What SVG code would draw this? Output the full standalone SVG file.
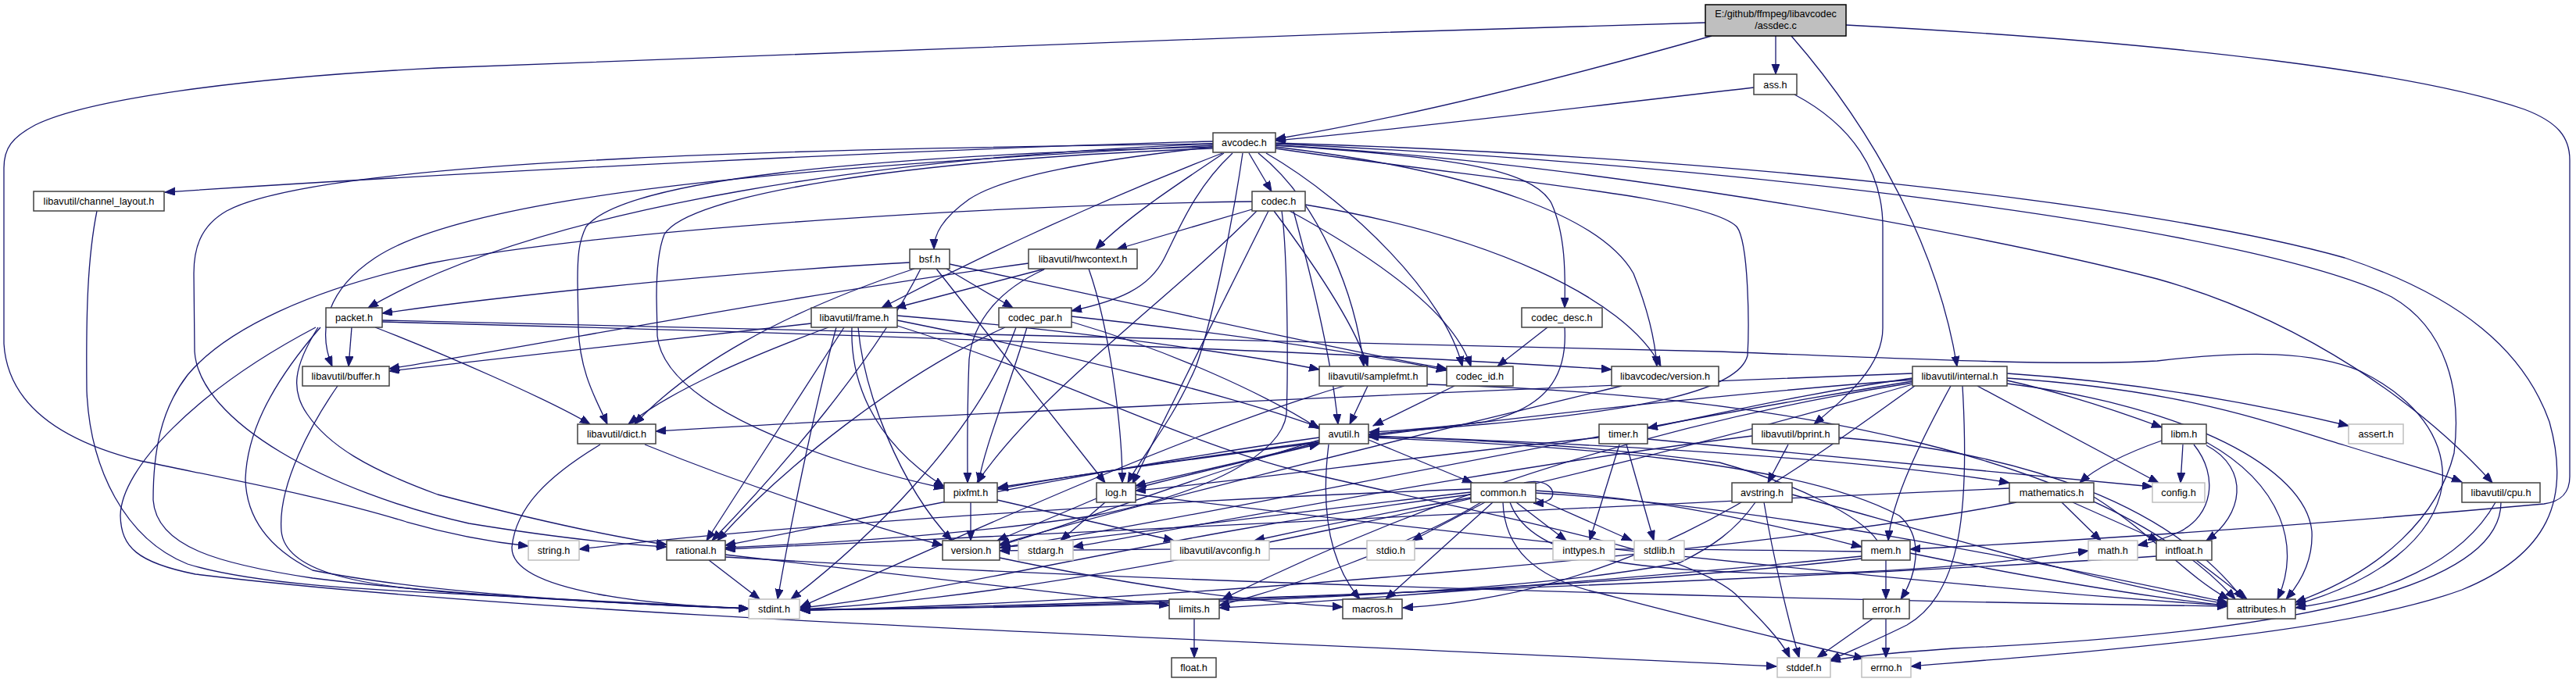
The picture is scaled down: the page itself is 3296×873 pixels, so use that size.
<svg xmlns="http://www.w3.org/2000/svg" width="3296" height="873" viewBox="0 0 3296 873">
<defs>
<marker id="a" markerWidth="14" markerHeight="11" refX="13" refY="5" orient="auto" markerUnits="userSpaceOnUse"><path d="M0,0 L13,5 L0,10 z" fill="#191970" stroke="#191970" stroke-width="1"/></marker>
<style>
.e{fill:none;stroke:#191970;stroke-width:1.3;marker-end:url(#a)}
.n rect{fill:#fff;stroke:#404040;stroke-width:1.5}
.g rect{fill:#fff;stroke:#bfbfbf;stroke-width:1.5}
text{font-family:"Liberation Sans",Arial,sans-serif;font-size:12.7px;text-anchor:middle;fill:#000}
</style>
</defs>
<rect x="0" y="0" width="3296" height="873" fill="#fff"/>
<g id="edges">
<path class="e" d="M2190,46 C2000,100 1800,150 1632,178"/>
<path class="e" d="M2272,46 L2272,95"/>
<path class="e" d="M2292,46 C2400,170 2480,320 2504,469"/>
<path class="e" d="M2182,29 C1600,45 900,72 560,87 C300,100 110,128 45,160 C15,176 5,190 5,215 L5,440 C10,520 80,565 180,590 C300,615 420,637 520,668 C590,688 640,695 676,699"/>
<path class="e" d="M2362,32 C2800,55 3100,95 3230,140 C3272,156 3288,175 3288,205 L3288,610 C3288,632 3276,642 3255,645 C3000,668 2700,690 2444,703"/>
<path class="e" d="M2244,112 C2000,140 1800,165 1632,180"/>
<path class="e" d="M2296,121 C2370,160 2409,220 2409,290 L2409,420 C2409,470 2360,510 2321,543"/>
<path class="e" d="M1552,181 C1200,190 600,220 211,246"/>
<path class="e" d="M1552,184 C1150,200 700,260 471,394"/>
<path class="e" d="M1552,186 C1000,215 600,250 480,330 C420,370 405,420 425,469"/>
<path class="e" d="M1552,188 C1100,200 800,230 750,290 C740,310 739,330 739,360 L740,420 C742,480 765,515 777,543"/>
<path class="e" d="M1552,190 C1150,205 880,250 850,300 C842,320 840,350 840,380 L841,430 C850,520 1050,590 1208,625"/>
<path class="e" d="M1552,184 C1100,190 420,200 290,270 C255,290 248,320 248,350 L249,450 C255,540 420,630 600,670 C710,688 800,697 853,700"/>
<path class="e" d="M1564,196 C1400,260 1250,330 1128,394"/>
<path class="e" d="M1552,188 C1400,205 1285,225 1240,255 C1205,280 1195,300 1195,319"/>
<path class="e" d="M1566,196 C1500,240 1440,280 1402,319"/>
<path class="e" d="M1577,196 C1530,240 1510,290 1490,330 C1470,370 1430,385 1371,398"/>
<path class="e" d="M1590,196 C1575,300 1548,420 1530,470 C1500,540 1460,585 1443,618"/>
<path class="e" d="M1598,196 L1627,245"/>
<path class="e" d="M1610,196 C1690,260 1735,380 1745,469"/>
<path class="e" d="M1620,196 C1730,260 1850,380 1871,469"/>
<path class="e" d="M1632,186 C1850,200 1960,215 1985,260 C2003,300 2003,350 2002,394"/>
<path class="e" d="M1632,188 C1900,220 2050,280 2090,350 C2110,400 2118,440 2120,469"/>
<path class="e" d="M1632,190 C1900,230 2180,250 2222,290 C2238,310 2238,420 2236,455 C2225,500 2100,525 1900,543 C1820,550 1780,553 1751,556"/>
<path class="e" d="M1632,186 C2000,205 2500,290 2760,357 C2950,410 3100,520 3189,618"/>
<path class="e" d="M1632,184 C2300,215 2900,300 3060,380 C3130,420 3150,500 3140,580 C3120,660 3050,730 2937,771"/>
<path class="e" d="M1632,183 C2200,200 2750,260 3000,330 C3150,380 3230,450 3262,540 C3290,640 3260,710 3150,755 C3000,810 2700,832 2445,853"/>
<path class="e" d="M1602,268 L1429,319"/>
<path class="e" d="M1623,270 L1449,619"/>
<path class="e" d="M1608,270 C1500,380 1330,500 1250,618"/>
<path class="e" d="M1602,258 C1300,262 800,290 550,337 C400,370 290,420 240,480 C205,525 196,580 196,640 C200,700 280,722 400,740 C600,765 850,775 958,779"/>
<path class="e" d="M1640,270 C1648,330 1648,480 1646,530 C1640,580 1550,630 1400,660 C1200,690 1000,698 928,701"/>
<path class="e" d="M1630,270 C1690,350 1735,420 1750,469"/>
<path class="e" d="M1650,270 C1760,330 1860,400 1882,469"/>
<path class="e" d="M1670,262 C1900,300 2080,380 2125,469"/>
<path class="e" d="M1655,270 C1685,380 1705,470 1712,543"/>
<path class="e" d="M1164,336 C900,350 600,385 489,401"/>
<path class="e" d="M1170,344 C1000,400 880,470 812,543"/>
<path class="e" d="M1178,344 C1120,460 1000,600 911,692"/>
<path class="e" d="M1198,344 L1414,618"/>
<path class="e" d="M1211,344 L1296,394"/>
<path class="e" d="M1215,338 C1500,400 1750,455 1851,472"/>
<path class="e" d="M1337,344 L1146,394"/>
<path class="e" d="M1316,337 C1000,380 700,440 498,472"/>
<path class="e" d="M1393,344 C1420,420 1436,550 1436,618"/>
<path class="e" d="M1336,345 C1280,370 1245,410 1240,460 C1237,530 1238,580 1238,618"/>
<path class="e" d="M450,419 L446,469"/>
<path class="e" d="M407,419 C375,470 372,500 393,530 C420,570 470,600 560,633 C700,670 800,690 853,697"/>
<path class="e" d="M410,419 C340,500 316,560 314,613 C315,660 340,700 400,730 C550,760 800,774 958,779"/>
<path class="e" d="M404,419 C250,500 155,600 154,660 C155,700 175,720 250,735 C700,790 1500,815 2273,853"/>
<path class="e" d="M480,419 C560,450 700,510 755,543"/>
<path class="e" d="M489,410 C1000,418 1600,432 2200,450 C2500,462 2650,468 2760,462 C2880,448 2960,450 3020,475 C3090,510 3130,560 3125,620 C3115,690 3040,745 2937,774"/>
<path class="e" d="M489,412 C1200,430 1800,455 2062,473"/>
<path class="e" d="M1038,414 C800,440 600,462 498,475"/>
<path class="e" d="M1060,419 C950,460 860,500 804,543"/>
<path class="e" d="M1080,419 L904,692"/>
<path class="e" d="M1090,419 C1088,480 1110,560 1208,623"/>
<path class="e" d="M1098,419 C1105,500 1150,620 1218,692"/>
<path class="e" d="M1148,404 C1400,425 1600,455 1688,473"/>
<path class="e" d="M1148,410 C1400,460 1600,515 1688,547"/>
<path class="e" d="M1070,419 C1040,530 1010,680 995,767"/>
<path class="e" d="M1148,417 C1350,480 1500,560 1650,600 C1900,660 2150,700 2220,760 C2250,790 2280,820 2290,842"/>
<path class="e" d="M1314,419 C1290,500 1260,570 1252,618"/>
<path class="e" d="M1286,419 C1150,480 1000,600 918,692"/>
<path class="e" d="M1300,419 C1250,560 1100,700 1012,767"/>
<path class="e" d="M1371,405 C1600,430 1760,456 1851,474"/>
<path class="e" d="M1371,412 C1500,450 1620,505 1688,549"/>
<path class="e" d="M1980,419 L1916,469"/>
<path class="e" d="M2002,419 C2005,470 1990,520 1900,540 C1820,550 1780,552 1752,553"/>
<path class="e" d="M432,494 C400,540 355,620 360,680 C365,730 450,750 600,760 C750,770 880,776 958,779"/>
<path class="e" d="M1750,494 L1727,543"/>
<path class="e" d="M1720,494 C1500,560 1200,700 1024,777"/>
<path class="e" d="M1826,492 C2300,505 2700,590 2860,767"/>
<path class="e" d="M1861,494 L1757,545"/>
<path class="e" d="M2075,494 C1800,560 1400,660 1279,697"/>
<path class="e" d="M2447,478 C2000,495 1200,530 839,552"/>
<path class="e" d="M2447,484 C2300,505 2200,530 2108,548"/>
<path class="e" d="M2568,478 C2750,490 2900,520 3005,545"/>
<path class="e" d="M2568,487 C2650,505 2720,530 2766,547"/>
<path class="e" d="M2530,494 L2762,618"/>
<path class="e" d="M2568,484 C2800,500 2900,540 3000,570 C3080,595 3120,605 3150,617"/>
<path class="e" d="M2568,491 C2800,520 2950,600 2958,680 C2960,720 2940,750 2925,767"/>
<path class="e" d="M2496,494 C2460,560 2420,640 2416,692"/>
<path class="e" d="M2511,494 C2520,650 2510,760 2440,800 C2400,820 2370,832 2342,845"/>
<path class="e" d="M2447,490 C2000,560 1700,700 1564,767"/>
<path class="e" d="M2450,494 C2300,600 2100,760 1795,778"/>
<path class="e" d="M2447,486 C2000,520 1500,590 1277,624"/>
<path class="e" d="M2447,488 C2000,560 1500,670 1280,701"/>
<path class="e" d="M2447,492 C2000,620 1400,760 1024,780"/>
<path class="e" d="M768,569 C700,610 660,650 655,700 C652,760 850,775 958,779"/>
<path class="e" d="M825,569 C950,620 1100,670 1206,698"/>
<path class="e" d="M1751,563 L1884,618"/>
<path class="e" d="M1751,560 C2000,570 2300,590 2430,660 C2465,690 2450,740 2432,767"/>
<path class="e" d="M1688,560 C1400,600 1100,665 928,698"/>
<path class="e" d="M1688,563 C1500,620 1350,680 1279,698"/>
<path class="e" d="M1700,569 C1690,650 1700,720 1740,767"/>
<path class="e" d="M1751,558 C2100,570 2400,590 2571,618"/>
<path class="e" d="M1688,566 C1600,590 1500,610 1453,622"/>
<path class="e" d="M1688,565 C1500,590 1350,612 1277,626"/>
<path class="e" d="M2072,569 L2034,692"/>
<path class="e" d="M2081,569 L2116,692"/>
<path class="e" d="M2108,562 C2400,590 2650,612 2754,623"/>
<path class="e" d="M2046,560 C1800,585 1600,615 1453,628"/>
<path class="e" d="M2288,569 L2262,618"/>
<path class="e" d="M2242,558 C1900,600 1500,680 1373,700"/>
<path class="e" d="M2353,560 C2600,580 2780,650 2870,767"/>
<path class="e" d="M2793,569 L2790,618"/>
<path class="e" d="M2823,570 C2880,600 2870,660 2823,692"/>
<path class="e" d="M2823,566 C2920,620 2945,700 2914,767"/>
<path class="e" d="M2807,569 C2840,610 2830,660 2790,680 C2770,690 2750,695 2735,698"/>
<path class="e" d="M2766,564 C2720,580 2680,600 2661,618"/>
<path class="e" d="M1242,643 L1242,692"/>
<path class="e" d="M1276,640 L1502,692"/>
<path class="e" d="M1403,638 L1276,692"/>
<path class="e" d="M1414,643 L1357,692"/>
<path class="e" d="M1453,625 C1550,600 1640,580 1688,568"/>
<path class="e" d="M1453,633 C2000,700 2600,760 2850,775"/>
<path class="e" d="M1950,618 C1985,610 1995,635 1980,641 C1975,644 1970,644 1962,644"/>
<path class="e" d="M1900,643 L1807,692"/>
<path class="e" d="M1940,643 L2004,692"/>
<path class="e" d="M1964,637 L2088,692"/>
<path class="e" d="M1910,643 L1773,767"/>
<path class="e" d="M1923,643 C1925,700 1960,740 2050,760 C2200,800 2330,830 2385,843"/>
<path class="e" d="M1932,643 C1960,720 2100,730 2300,735 C2500,730 2620,712 2672,705"/>
<path class="e" d="M1965,628 C2150,640 2300,680 2382,700"/>
<path class="e" d="M1965,631 C2300,650 2700,740 2850,771"/>
<path class="e" d="M1882,626 C1500,640 1000,672 741,703"/>
<path class="e" d="M1882,633 C1500,680 1200,762 1024,778"/>
<path class="e" d="M1895,643 C1800,700 1650,752 1560,775"/>
<path class="e" d="M1882,630 C1600,662 1400,690 1279,701"/>
<path class="e" d="M1882,637 C1750,660 1650,682 1605,692"/>
<path class="e" d="M2257,643 C2270,720 2290,800 2302,842"/>
<path class="e" d="M2246,643 C2220,680 2190,700 2150,720 C1900,770 1300,779 1024,780"/>
<path class="e" d="M2293,633 C2500,690 2700,750 2850,773"/>
<path class="e" d="M2638,643 L2688,692"/>
<path class="e" d="M2652,643 L2762,692"/>
<path class="e" d="M2679,636 C2750,680 2800,740 2852,767"/>
<path class="e" d="M2571,625 C2000,650 1400,682 928,703"/>
<path class="e" d="M2580,643 C2300,700 1500,772 1024,781"/>
<path class="e" d="M3193,643 C3150,720 3050,762 2937,778"/>
<path class="e" d="M3200,643 C3200,760 2900,812 2500,830 C2420,836 2370,840 2342,846"/>
<path class="e" d="M907,717 L972,767"/>
<path class="e" d="M928,710 C1200,740 1400,765 1496,775"/>
<path class="e" d="M928,713 C1500,748 2400,770 2850,776"/>
<path class="e" d="M1279,714 C1450,750 1600,770 1718,777"/>
<path class="e" d="M2413,717 L2413,767"/>
<path class="e" d="M2402,692 C2380,660 2300,620 2200,592 C2000,565 1800,560 1751,559"/>
<path class="e" d="M2444,708 C2600,740 2750,765 2850,775"/>
<path class="e" d="M2382,712 C2100,740 1700,770 1560,778"/>
<path class="e" d="M2382,715 C2000,760 1300,779 1024,781"/>
<path class="e" d="M2382,706 C2000,700 1500,702 1279,705"/>
<path class="e" d="M2396,792 L2325,842"/>
<path class="e" d="M2413,792 L2413,842"/>
<path class="e" d="M2810,717 L2875,767"/>
<path class="e" d="M2759,712 C2300,742 1500,772 1024,781"/>
<path class="e" d="M1528,792 L1528,842"/>
<path class="e" d="M124,270 C112,330 110,400 111,500 C115,600 160,690 240,722 C330,750 500,756 600,761 C760,770 880,776 958,779"/>
</g>
<g id="root"><rect x="2182" y="6" width="180" height="40" fill="#bfbfbf" stroke="#000" stroke-width="1.5"/><text x="2272" y="21.5">E:/github/ffmpeg/libavcodec</text><text x="2272" y="37">/assdec.c</text></g>
<g id="ass_h" class="n"><rect x="2244" y="95" width="55" height="26"/><text x="2271.5" y="112.5">ass.h</text></g>
<g id="avcodec_h" class="n"><rect x="1552" y="170" width="80" height="25"/><text x="1592" y="187">avcodec.h</text></g>
<g id="channel_layout_h" class="n"><rect x="43" y="245" width="167" height="25"/><text x="126.5" y="262">libavutil/channel_layout.h</text></g>
<g id="codec_h" class="n"><rect x="1602" y="245" width="68" height="25"/><text x="1636" y="262">codec.h</text></g>
<g id="bsf_h" class="n"><rect x="1164" y="319" width="51" height="25"/><text x="1189.5" y="336">bsf.h</text></g>
<g id="hwcontext_h" class="n"><rect x="1316" y="319" width="139" height="25"/><text x="1385.5" y="336">libavutil/hwcontext.h</text></g>
<g id="packet_h" class="n"><rect x="417" y="394" width="72" height="25"/><text x="453" y="411">packet.h</text></g>
<g id="frame_h" class="n"><rect x="1038" y="394" width="110" height="25"/><text x="1093" y="411">libavutil/frame.h</text></g>
<g id="codec_par_h" class="n"><rect x="1278" y="394" width="93" height="25"/><text x="1324.5" y="411">codec_par.h</text></g>
<g id="codec_desc_h" class="n"><rect x="1947" y="394" width="103" height="25"/><text x="1998.5" y="411">codec_desc.h</text></g>
<g id="buffer_h" class="n"><rect x="387" y="469" width="111" height="25"/><text x="442.5" y="486">libavutil/buffer.h</text></g>
<g id="samplefmt_h" class="n"><rect x="1688" y="469" width="138" height="25"/><text x="1757" y="486">libavutil/samplefmt.h</text></g>
<g id="codec_id_h" class="n"><rect x="1851" y="469" width="85" height="25"/><text x="1893.5" y="486">codec_id.h</text></g>
<g id="lavc_version_h" class="n"><rect x="2062" y="469" width="137" height="25"/><text x="2130.5" y="486">libavcodec/version.h</text></g>
<g id="internal_h" class="n"><rect x="2447" y="469" width="121" height="25"/><text x="2507.5" y="486">libavutil/internal.h</text></g>
<g id="dict_h" class="n"><rect x="739" y="543" width="100" height="25"/><text x="789" y="560">libavutil/dict.h</text></g>
<g id="avutil_h" class="n"><rect x="1688" y="543" width="63" height="25"/><text x="1719.5" y="560">avutil.h</text></g>
<g id="timer_h" class="n"><rect x="2046" y="543" width="62" height="25"/><text x="2077" y="560">timer.h</text></g>
<g id="bprint_h" class="n"><rect x="2242" y="543" width="111" height="25"/><text x="2297.5" y="560">libavutil/bprint.h</text></g>
<g id="libm_h" class="n"><rect x="2766" y="543" width="57" height="25"/><text x="2794.5" y="560">libm.h</text></g>
<g id="assert_h" class="g"><rect x="3005" y="543" width="70" height="25"/><text x="3040" y="560">assert.h</text></g>
<g id="pixfmt_h" class="n"><rect x="1208" y="618" width="68" height="25"/><text x="1242" y="635">pixfmt.h</text></g>
<g id="log_h" class="n"><rect x="1403" y="618" width="50" height="25"/><text x="1428" y="635">log.h</text></g>
<g id="common_h" class="n"><rect x="1882" y="618" width="83" height="25"/><text x="1923.5" y="635">common.h</text></g>
<g id="avstring_h" class="n"><rect x="2216" y="618" width="77" height="25"/><text x="2254.5" y="635">avstring.h</text></g>
<g id="mathematics_h" class="n"><rect x="2571" y="618" width="108" height="25"/><text x="2625" y="635">mathematics.h</text></g>
<g id="config_h" class="g"><rect x="2754" y="618" width="67" height="25"/><text x="2787.5" y="635">config.h</text></g>
<g id="cpu_h" class="n"><rect x="3150" y="618" width="100" height="25"/><text x="3200" y="635">libavutil/cpu.h</text></g>
<g id="string_h" class="g"><rect x="676" y="692" width="65" height="25"/><text x="708.5" y="709">string.h</text></g>
<g id="rational_h" class="n"><rect x="853" y="692" width="75" height="25"/><text x="890.5" y="709">rational.h</text></g>
<g id="version_h" class="n"><rect x="1206" y="692" width="73" height="25"/><text x="1242.5" y="709">version.h</text></g>
<g id="stdarg_h" class="g"><rect x="1303" y="692" width="70" height="25"/><text x="1338" y="709">stdarg.h</text></g>
<g id="avconfig_h" class="g"><rect x="1498" y="692" width="126" height="25"/><text x="1561" y="709">libavutil/avconfig.h</text></g>
<g id="stdio_h" class="g"><rect x="1749" y="692" width="61" height="25"/><text x="1779.5" y="709">stdio.h</text></g>
<g id="inttypes_h" class="g"><rect x="1987" y="692" width="79" height="25"/><text x="2026.5" y="709">inttypes.h</text></g>
<g id="stdlib_h" class="g"><rect x="2091" y="692" width="64" height="25"/><text x="2123" y="709">stdlib.h</text></g>
<g id="mem_h" class="n"><rect x="2382" y="692" width="62" height="25"/><text x="2413" y="709">mem.h</text></g>
<g id="math_h" class="g"><rect x="2672" y="692" width="63" height="25"/><text x="2703.5" y="709">math.h</text></g>
<g id="intfloat_h" class="n"><rect x="2759" y="692" width="71" height="25"/><text x="2794.5" y="709">intfloat.h</text></g>
<g id="stdint_h" class="g"><rect x="958" y="767" width="65" height="25"/><text x="990.5" y="784">stdint.h</text></g>
<g id="limits_h" class="n"><rect x="1496" y="767" width="64" height="25"/><text x="1528" y="784">limits.h</text></g>
<g id="macros_h" class="n"><rect x="1718" y="767" width="76" height="25"/><text x="1756" y="784">macros.h</text></g>
<g id="error_h" class="n"><rect x="2384" y="767" width="59" height="25"/><text x="2413.5" y="784">error.h</text></g>
<g id="attributes_h" class="n"><rect x="2850" y="767" width="87" height="25"/><text x="2893.5" y="784">attributes.h</text></g>
<g id="float_h" class="n"><rect x="1499" y="842" width="57" height="25"/><text x="1527.5" y="859">float.h</text></g>
<g id="stddef_h" class="g"><rect x="2274" y="842" width="68" height="25"/><text x="2308" y="859">stddef.h</text></g>
<g id="errno_h" class="g"><rect x="2382" y="842" width="63" height="25"/><text x="2413.5" y="859">errno.h</text></g>
</svg>
